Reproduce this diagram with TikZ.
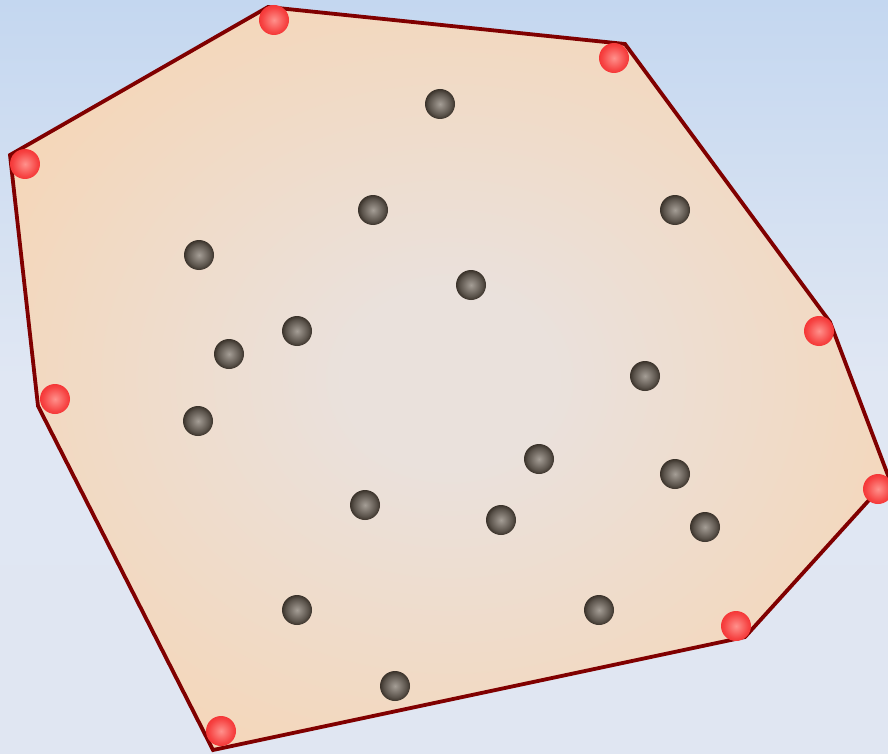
\documentclass[tikz,border=0pt]{standalone}
\usetikzlibrary{shadings}
\definecolor{bgtop}{RGB}{196,215,240}
\definecolor{bgmid}{RGB}{224,231,243}
\definecolor{bgbot}{RGB}{224,230,242}
\definecolor{hullin}{RGB}{234,225,220}
\definecolor{hullout}{RGB}{249,210,170}
\definecolor{hullline}{RGB}{128,0,0}
\definecolor{redin}{RGB}{255,145,140}
\definecolor{redout}{RGB}{245,55,55}
\definecolor{grayin}{RGB}{165,158,150}
\definecolor{grayout}{RGB}{58,50,42}
\pgfdeclareradialshading{hullshade}{\pgfpoint{0bp}{0bp}}{color(0bp)=(hullin); color(6bp)=(hullin); color(38bp)=(hullout); color(72bp)=(hullout)}
\pgfdeclareradialshading{redball}{\pgfpoint{0bp}{0bp}}{color(0bp)=(redin); color(20bp)=(redout!85!redin); color(25bp)=(redout); color(50bp)=(redout)}
\pgfdeclareradialshading{grayball}{\pgfpoint{0bp}{0bp}}{color(0bp)=(grayin); color(19bp)=(grayout!70!grayin); color(25bp)=(grayout); color(50bp)=(grayout)}
\tikzset{
  hullpt/.style={circle, inner sep=0pt, minimum size=30pt, shading=redball},
  innerpt/.style={circle, inner sep=0pt, minimum size=30pt, shading=grayball},
  hull/.style={draw=hullline, line width=3.8pt, line join=miter, shading=hullshade}
}
\begin{document}
\begin{tikzpicture}[x=1pt,y=-1pt]
\useasboundingbox (0,0) rectangle (888,754);
\shade[top color=bgtop, bottom color=bgbot, middle color=bgmid] (0,0) rectangle (888,754);
\coordinate (v1) at (268,7);
\coordinate (v2) at (625,44);
\coordinate (v3) at (830,322);
\coordinate (v4) at (889,478);
\coordinate (v5) at (745,637);
\coordinate (v6) at (213,750);
\coordinate (v7) at (38,406);
\coordinate (v8) at (10,155);
\path[hull] (v1) -- (v2) -- (v3) -- (v4) -- (v5) -- (v6) -- (v7) -- (v8) -- cycle;
% hull points
\node[hullpt] (h1) at (274,20) {};
\node[hullpt] (h2) at (614,58) {};
\node[hullpt] (h3) at (819,331) {};
\node[hullpt] (h4) at (878,489) {};
\node[hullpt] (h5) at (736,626) {};
\node[hullpt] (h6) at (221,731) {};
\node[hullpt] (h7) at (55,399) {};
\node[hullpt] (h8) at (25,164) {};
% inner points
\node[innerpt] (p1) at (440,104) {};
\node[innerpt] (p2) at (373,210) {};
\node[innerpt] (p3) at (675,210) {};
\node[innerpt] (p4) at (199,255) {};
\node[innerpt] (p5) at (471,285) {};
\node[innerpt] (p6) at (297,331) {};
\node[innerpt] (p7) at (229,354) {};
\node[innerpt] (p8) at (645,376) {};
\node[innerpt] (p9) at (198,421) {};
\node[innerpt] (p10) at (539,459) {};
\node[innerpt] (p11) at (675,474) {};
\node[innerpt] (p12) at (365,505) {};
\node[innerpt] (p13) at (501,520) {};
\node[innerpt] (p14) at (705,527) {};
\node[innerpt] (p15) at (297,610) {};
\node[innerpt] (p16) at (599,610) {};
\node[innerpt] (p17) at (395,686) {};
\end{tikzpicture}
\end{document}
